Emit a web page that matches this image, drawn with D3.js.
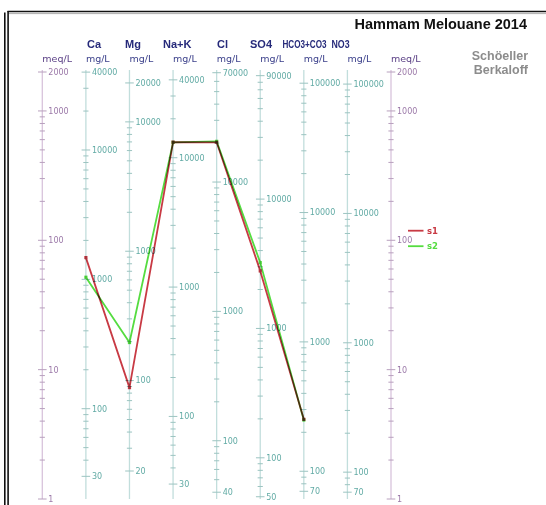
<!DOCTYPE html>
<html><head><meta charset="utf-8">
<script src="https://cdn.jsdelivr.net/npm/d3@7"></script>
<style>
html,body{margin:0;padding:0;background:#fff;}
svg{display:block;}
</style></head>
<body>
<script>
// ---- data ----
const ions = ["Ca", "Mg", "Na+K", "Cl", "SO4", "HCO3+CO3", "NO3"];
const eqWeights = [20.04, 12.15, 23.0, 35.45, 48.03, 61.02, 62.0];
const ionTickLabels = [
  [30, 100, 1000, 10000, 40000],
  [20, 100, 1000, 10000, 20000],
  [30, 100, 1000, 10000, 40000],
  [40, 100, 1000, 10000, 70000],
  [50, 100, 1000, 10000, 90000],
  [70, 100, 1000, 10000, 100000],
  [70, 100, 1000, 10000, 100000]
];
const meqTickLabels = [1, 10, 100, 1000, 2000];
const meqDomain = [1, 2000];
const seriesNames = ["s1", "s2"];
const s1 = [73.5, 7.26, 574, 572, 58.0, 4.13];   // meq/L
const s2 = [51.8, 16.2, 572, 582, 67.2, 4.08];   // meq/L
const seriesValues = [s1, s2];
const seriesColors = ["#c83a44", "#55dc40"];
const title = "Hammam Melouane 2014";
const subtitle = ["Schöeller", "Berkaloff"];

// ---- layout ----
const W = 546, H = 505;
const columns = ["meqL"].concat(ions, ["meqR"]);
const x = d3.scalePoint().domain(columns).range([42.3, 391]);
const y = d3.scaleLog().domain(meqDomain).range([499, 72]);
const ionLabelX = [87, 125, 163, 217, 250, 282.5, 331.5];
const ionLabelScaleX = [1, 1, 1, 1, 1, 0.74, 0.8];

const svg = d3.select("body").append("svg").attr("width", W).attr("height", H);

// frame
svg.append("line").attr("x1", 7.5).attr("x2", W).attr("y1", 11.5).attr("y2", 11.5)
  .attr("stroke", "#111").attr("stroke-width", 1.6);
svg.append("line").attr("x1", 8).attr("x2", W).attr("y1", 13.6).attr("y2", 13.6)
  .attr("stroke", "#999").attr("stroke-width", 0.8);
svg.append("line").attr("x1", 4.8).attr("x2", 4.8).attr("y1", 12.5).attr("y2", H)
  .attr("stroke", "#111").attr("stroke-width", 1.6);
svg.append("line").attr("x1", 8.1).attr("x2", 8.1).attr("y1", 11).attr("y2", H)
  .attr("stroke", "#111").attr("stroke-width", 1.6);

// title
svg.append("text").attr("x", 527).attr("y", 28.5).attr("text-anchor", "end")
  .style("font", "bold 14.5px 'Liberation Sans', Arial, sans-serif").attr("fill", "#111").text(title);
subtitle.forEach((s, i) => {
  svg.append("text").attr("x", 528).attr("y", 60 + i * 14).attr("text-anchor", "end")
    .style("font", "bold 12.5px 'Liberation Sans', Arial, sans-serif").attr("fill", "#8c8c8c").text(s);
});

const smallFont = "'DejaVu Sans', Verdana, sans-serif";

function allTicks(lo, hi) {
  const t = [];
  for (let e = Math.floor(Math.log10(lo)); e <= Math.ceil(Math.log10(hi)); e++) {
    for (let k = 1; k <= 9; k++) {
      const v = k * Math.pow(10, e);
      if (v >= lo * 0.9999 && v <= hi * 1.0001) t.push(v);
    }
  }
  return t;
}

function drawAxis(cx, scale, ticks, labels, lineColor, tickColor, labelColor) {
  const g = svg.append("g");
  g.append("line").attr("x1", cx).attr("x2", cx)
    .attr("y1", y(meqDomain[1]) - 2).attr("y2", y(meqDomain[0]))
    .attr("stroke", lineColor).attr("stroke-width", 1.3);
  ticks.forEach(v => {
    const major = labels.indexOf(v) >= 0;
    const hw = major ? 4.3 : 2.6;
    g.append("line").attr("x1", cx - hw).attr("x2", cx + hw)
      .attr("y1", scale(v)).attr("y2", scale(v))
      .attr("stroke", tickColor).attr("stroke-width", 1);
  });
  labels.forEach(v => {
    g.append("text").attr("x", cx + 6).attr("y", scale(v)).attr("dy", "0.36em")
      .style("font", "8px " + smallFont).attr("fill", labelColor).text(v);
  });
}

// meq axes
["meqL", "meqR"].forEach(c => {
  drawAxis(x(c), y, allTicks(meqDomain[0], meqDomain[1]), meqTickLabels,
    "#d8c3dc", "#b8a0be", "#9b78a8");
  svg.append("text").attr("x", x(c)).attr("y", 62).style("font", "9.5px " + smallFont)
    .attr("fill", "#5a3f85").text("meq/L");
});

// ion axes
ions.forEach((ion, i) => {
  const ew = eqWeights[i];
  const sc = d3.scaleLog().domain([meqDomain[0] * ew, meqDomain[1] * ew]).range(y.range());
  drawAxis(x(ion), sc, allTicks(meqDomain[0] * ew, meqDomain[1] * ew), ionTickLabels[i],
    "#c2dedc", "#9cc4c1", "#62aba5");
  svg.append("text").attr("x", x(ion)).attr("y", 62).style("font", "9.5px " + smallFont)
    .attr("fill", "#3a3f8a").text("mg/L");
  svg.append("text")
    .attr("transform", `translate(${ionLabelX[i]},47.5) scale(${ionLabelScaleX[i]},1)`)
    .style("font", "bold 11px 'Liberation Sans', Arial, sans-serif").attr("fill", "#262a7a").text(ion);
});

// series
const ionCols = ions.slice(0, 6);
const line = d3.line().x((d, i) => x(ionCols[i])).y(d => y(d));
seriesValues.forEach((vals, si) => {
  const g = svg.append("g").style("mix-blend-mode", "multiply");
  g.append("path").datum(vals).attr("d", line).attr("fill", "none")
    .attr("stroke", seriesColors[si]).attr("stroke-width", 1.8).attr("stroke-linejoin", "round");
  g.selectAll("rect").data(vals).enter().append("rect")
    .attr("x", (d, i) => x(ionCols[i]) - 1.6).attr("y", d => y(d) - 1.6)
    .attr("width", 3.2).attr("height", 3.2).attr("fill", seriesColors[si]);
});

// legend
seriesNames.forEach((n, i) => {
  const ly = 230.7 + i * 15.5;
  svg.append("line").attr("x1", 408).attr("x2", 423.5).attr("y1", ly).attr("y2", ly)
    .attr("stroke", seriesColors[i]).attr("stroke-width", 1.8);
  svg.append("text").attr("x", 427).attr("y", ly).attr("dy", "0.36em")
    .style("font", "bold 8.5px " + smallFont).attr("fill", seriesColors[i]).text(n);
});
</script>
</body></html>
